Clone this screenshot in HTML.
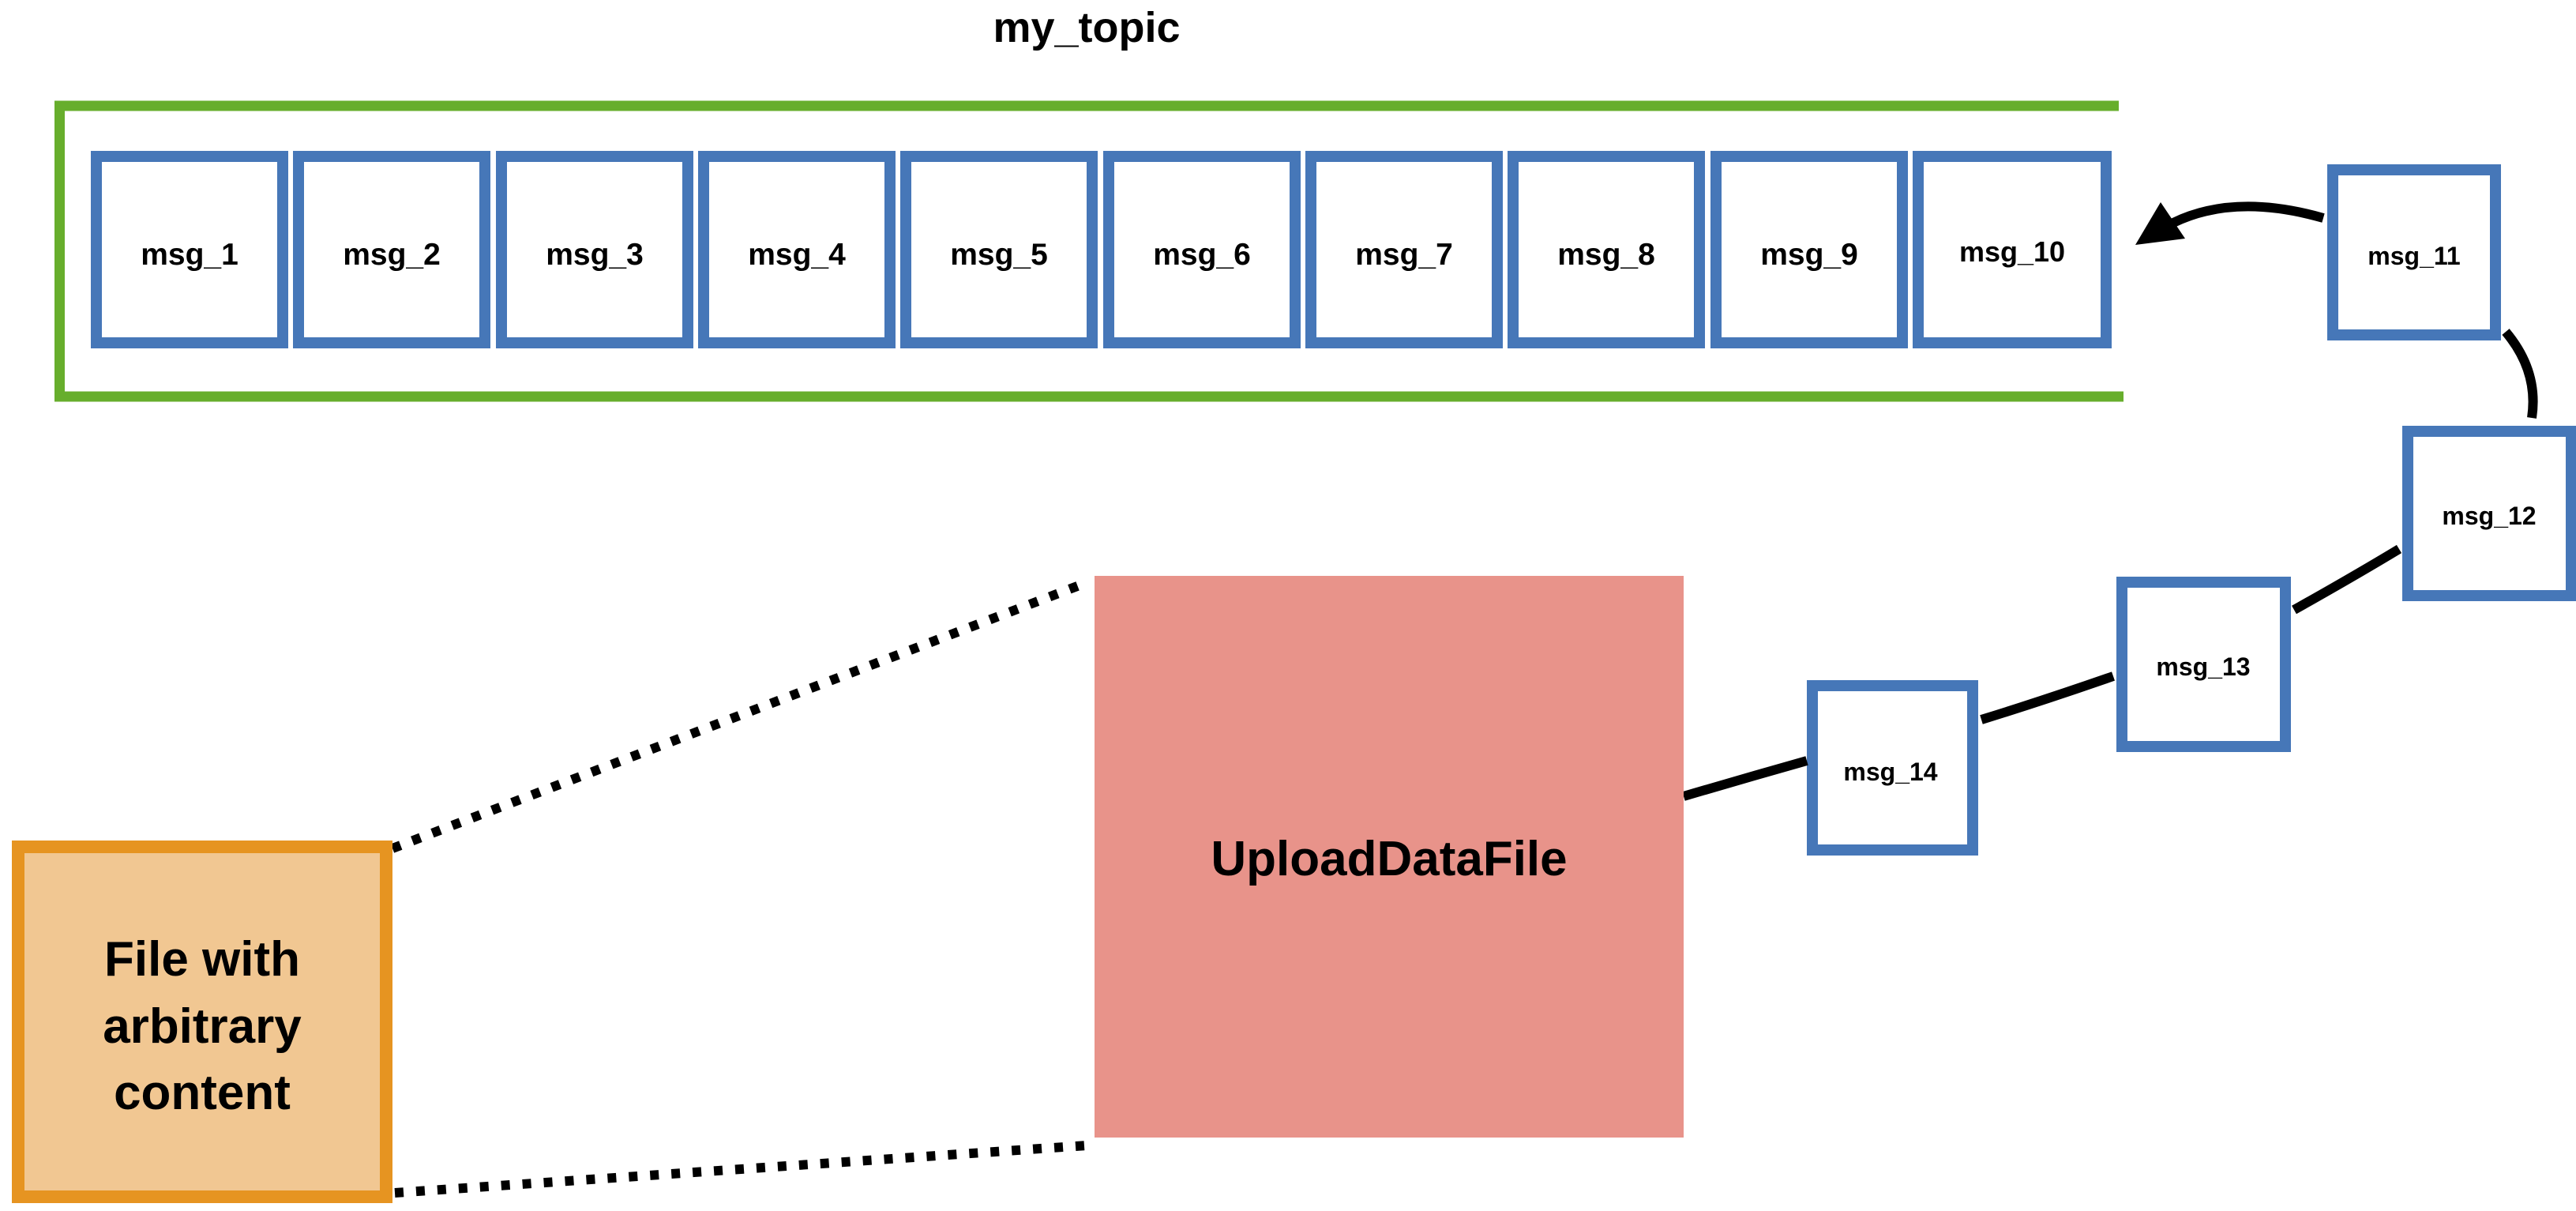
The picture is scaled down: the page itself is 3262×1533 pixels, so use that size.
<!DOCTYPE html>
<html><head><meta charset="utf-8"><style>
html,body{margin:0;padding:0;background:#fff;}
svg{display:block;}
text{font-family:"Liberation Sans",sans-serif;font-weight:bold;fill:#000;}
</style></head><body>
<svg width="3262" height="1533" viewBox="0 0 3262 1533" xmlns="http://www.w3.org/2000/svg">
<text x="1376" y="53" font-size="54" text-anchor="middle">my_topic</text>
<polyline points="2683,134 75.5,134 75.5,502 2689,502" fill="none" stroke="#67ae2c" stroke-width="13"/>
<g fill="none" stroke="#4677b8" stroke-width="14">
<rect x="122" y="198" width="236" height="236"/>
<rect x="378" y="198" width="236" height="236"/>
<rect x="635" y="198" width="236" height="236"/>
<rect x="891" y="198" width="236" height="236"/>
<rect x="1147" y="198" width="236" height="236"/>
<rect x="1404" y="198" width="236" height="236"/>
<rect x="1660" y="198" width="236" height="236"/>
<rect x="1916" y="198" width="236" height="236"/>
<rect x="2173" y="198" width="236" height="236"/>
<rect x="2429" y="198" width="238" height="236"/>
<rect x="2954" y="215" width="206" height="209"/>
<rect x="3049" y="546" width="207" height="208"/>
<rect x="2687" y="737" width="207" height="208"/>
<rect x="2295" y="868" width="203" height="208"/>
</g>
<g font-size="39" text-anchor="middle">
<text x="240" y="335">msg_1</text>
<text x="496" y="335">msg_2</text>
<text x="753" y="335">msg_3</text>
<text x="1009" y="335">msg_4</text>
<text x="1265" y="335">msg_5</text>
<text x="1522" y="335">msg_6</text>
<text x="1778" y="335">msg_7</text>
<text x="2034" y="335">msg_8</text>
<text x="2291" y="335">msg_9</text>
</g>
<text x="2548" y="331" font-size="36" text-anchor="middle">msg_10</text>
<g font-size="32" text-anchor="middle">
<text x="3057" y="335">msg_11</text>
<text x="3152" y="664">msg_12</text>
<text x="2790" y="855">msg_13</text>
<text x="2394" y="988">msg_14</text>
</g>
<g fill="none" stroke="#000" stroke-width="12">
<path d="M2942 276 Q2830 244 2752 282"/>
<path d="M3173 420 Q3215 470 3206 529"/>
<path d="M3038 695 Q2980 730 2905 772"/>
<path d="M2676 856 Q2590 886 2509 911"/>
<path d="M2288 963 Q2210 985 2132 1008"/>
</g>
<polygon points="2704,310 2736,256 2767,302" fill="#000"/>
<rect x="1386" y="729" width="746" height="711" fill="#e8938a"/>
<text x="1759" y="1108" font-size="62" text-anchor="middle">UploadDataFile</text>
<g stroke="#000" stroke-width="12" stroke-dasharray="11 16" fill="none">
<line x1="497" y1="1074" x2="1372" y2="739"/>
<line x1="500" y1="1510" x2="1376" y2="1450"/>
</g>
<rect x="23" y="1072" width="466" height="443" fill="#f1c792" stroke="#e69421" stroke-width="16"/>
<g font-size="62" text-anchor="middle">
<text x="256" y="1235">File with</text>
<text x="256" y="1320">arbitrary</text>
<text x="256" y="1404">content</text>
</g>
</svg>
</body></html>
